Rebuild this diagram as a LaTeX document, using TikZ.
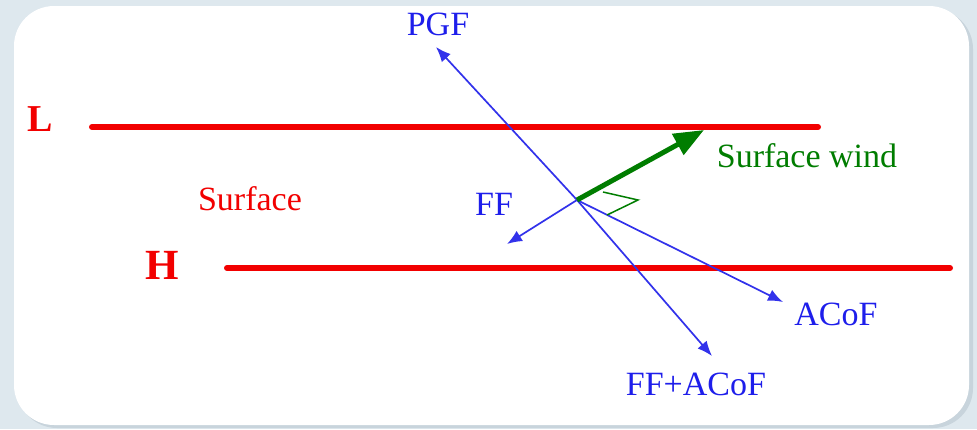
\documentclass[tikz,border=0pt]{standalone}
\usepackage{fontspec}
\setmainfont{Liberation Serif}
\usetikzlibrary{arrows.meta}
\definecolor{bgc}{RGB}{222,232,238}
\definecolor{shadowc}{RGB}{200,212,220}
\definecolor{myred}{RGB}{242,0,0}
\definecolor{myblue}{RGB}{30,30,235}
\definecolor{lineblue}{RGB}{50,50,235}
\definecolor{mygreen}{RGB}{0,125,0}
\tikzset{
  lab/.style={inner sep=0pt, anchor=base, font=\fontsize{34}{40}\selectfont},
  bluelab/.style={lab, text=myblue},
  redlab/.style={lab, text=myred},
  bigred/.style={inner sep=0pt, anchor=base, text=myred, font=\fontsize{38}{44}\selectfont\bfseries},
  isobar/.style={draw=myred, line width=6pt, line cap=round},
  force/.style={draw=lineblue, line width=1.7pt, -{Latex[length=15pt,width=12pt]}},
  wind/.style={draw=mygreen, line width=5pt, -{Triangle[length=30pt,width=23pt]}},
  rightmark/.style={draw=mygreen, line width=1.5pt}
}
\begin{document}
\begin{tikzpicture}[x=1pt,y=-1pt]
\useasboundingbox (0,0) rectangle (977,429);
\fill[bgc] (0,0) rectangle (977,429);
\fill[shadowc, rounded corners=40pt] (17,9) rectangle (973,428);
\fill[white, rounded corners=40pt] (14,6) rectangle (969,425);

% labels
\node[bigred] (L) at (40,131) {L};
\node[bigred, font=\fontsize{43}{48}\selectfont\bfseries] (H) at (162,279) {H};
\node[redlab] (surf) at (250,210) {Surface};
\node[lab, text=mygreen] (sw) at (807,167) {Surface wind};
\node[bluelab] (pgf) at (438,35) {PGF};
\node[bluelab] (ff) at (494,215) {FF};
\node[bluelab] (acof) at (836,325) {ACoF};
\node[bluelab] (ffacof) at (696,395) {FF+ACoF};

% isobars
\coordinate (La) at (92,127);
\coordinate (Lb) at (818,127);
\coordinate (Ha) at (227,268);
\coordinate (Hb) at (950,268);
\draw[isobar] (La) -- (Lb);
\draw[isobar] (Ha) -- (Hb);

% forces
\coordinate (O) at (577,200);
\coordinate (pgftip) at (436,47);
\coordinate (fftip) at (507,244);
\coordinate (acoftip) at (783,302);
\coordinate (sumtip) at (712,356);
\coordinate (windtip) at (704,130);
\draw[force] (O) -- (pgftip);
\draw[force] (O) -- (fftip);
\draw[force] (O) -- (acoftip);
\draw[force] (O) -- (sumtip);
\draw[wind] (O) -- (windtip);

% right-angle mark
\coordinate (m1) at (603,192);
\coordinate (m2) at (638,200);
\coordinate (m3) at (607,215);
\draw[rightmark] (m1) -- (m2) -- (m3);
\end{tikzpicture}
\end{document}
